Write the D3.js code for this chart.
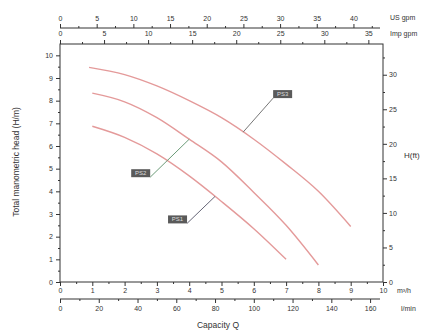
<!DOCTYPE html>
<html>
<head>
<meta charset="utf-8">
<script src="https://cdn.jsdelivr.net/npm/d3@7"></script>
<style>
    body { margin: 0; background: #fff; }
    svg { display: block; font-family: "Liberation Sans", Arial, sans-serif; }
    .axis text { fill: #333; font-size: 7px; }
    .axis path, .axis line { stroke: #333; }
</style>
</head>
<body>
<div id="chart"></div>
<script>
// Pump curves: capacity in m³/h, head in m
const qHigh = [0.9, 2, 3, 4, 5, 6, 7, 8, 9];
const hHigh = [9.47, 9.15, 8.65, 8.0, 7.25, 6.3, 5.2, 4.0, 2.45];
const qMid = [1.0, 2, 3, 4, 5, 6, 7, 8];
const hMid = [8.33, 7.95, 7.25, 6.3, 5.3, 3.95, 2.5, 0.75];
const qLow = [1.0, 2, 3, 4, 5, 6, 7];
const hLow = [6.87, 6.38, 5.65, 4.68, 3.55, 2.35, 1.0];

const curveNames = ['PS3', 'PS2', 'PS1'];
// where each label's leader touches its curve (m³/h)
const labelAt = [5.67, 4.0, 4.8];

// Tick values
const m3hTicks = [0, 1, 2, 3, 4, 5, 6, 7, 8, 9, 10];
const lminTicks = [0, 20, 40, 60, 80, 100, 120, 140, 160];
const usTicks = [0, 5, 10, 15, 20, 25, 30, 35, 40];
const impTicks = [0, 5, 10, 15, 20, 25, 30, 35];
const headTicks = [0, 1, 2, 3, 4, 5, 6, 7, 8, 9, 10];
const ftTicks = [0, 5, 10, 15, 20, 25, 30];

// Unit conversions
const M3H_TO_LMIN = 1000 / 60;
const M3H_TO_USGPM = 4.4029;
const M3H_TO_IMPGPM = 3.6662;
const M_TO_FT = 3.2808;

const width = 431, height = 332;
const plotLeft = 60, plotRight = 383, plotTop = 44, plotBottom = 282;
const qMax = 10, hMax = 10.5;

const svg = d3.select('#chart')
    .append('svg')
    .attr('width', width)
    .attr('height', height);

// Scales
const x = d3.scaleLinear().domain([0, qMax]).range([plotLeft, plotRight]);
const xLmin = d3.scaleLinear().domain([0, qMax * M3H_TO_LMIN]).range([plotLeft, plotRight]);
const xUs = d3.scaleLinear().domain([0, qMax * M3H_TO_USGPM]).range([plotLeft, plotRight]);
const xImp = d3.scaleLinear().domain([0, qMax * M3H_TO_IMPGPM]).range([plotLeft, plotRight]);
const y = d3.scaleLinear().domain([0, hMax]).range([plotBottom, plotTop]);
const yFt = d3.scaleLinear().domain([0, hMax * M_TO_FT]).range([plotBottom, plotTop]);

// Helper: minor ticks halfway between major ones
function halves(ticks, limit) {
    const step = ticks[1] - ticks[0];
    const out = [];
    for (let v = ticks[0] + step / 2; v < limit; v += step) out.push(v);
    return out;
}

function drawAxis(axis, translate, minorValues, minorAxisFn, scale) {
    const g = svg.append('g')
        .attr('class', 'axis')
        .attr('transform', translate)
        .call(axis);
    g.select('.domain').remove();
    svg.append('g')
        .attr('class', 'axis')
        .attr('transform', translate)
        .call(minorAxisFn(scale).tickValues(minorValues).tickSize(2).tickFormat(''))
        .select('.domain').remove();
    return g;
}

// Frame
svg.append('rect')
    .attr('x', plotLeft)
    .attr('y', plotTop)
    .attr('width', plotRight - plotLeft)
    .attr('height', plotBottom - plotTop)
    .style('fill', 'none')
    .style('stroke', '#333')
    .style('stroke-width', 1);

// Bottom: m³/h
drawAxis(d3.axisBottom(x).tickValues(m3hTicks).tickSize(4).tickPadding(2),
    `translate(0,${plotBottom})`, halves(m3hTicks, qMax), d3.axisBottom, x);

// Bottom: l/min
svg.append('line')
    .attr('x1', plotLeft).attr('x2', plotRight - 3)
    .attr('y1', 299).attr('y2', 299)
    .style('stroke', '#333');
drawAxis(d3.axisBottom(xLmin).tickValues(lminTicks).tickSize(4).tickPadding(3),
    'translate(0,299)', halves(lminTicks, qMax * M3H_TO_LMIN), d3.axisBottom, xLmin);

// Top: US gpm
svg.append('line')
    .attr('x1', plotLeft).attr('x2', plotRight - 3)
    .attr('y1', 28).attr('y2', 28)
    .style('stroke', '#333');
drawAxis(d3.axisTop(xUs).tickValues(usTicks).tickSize(4).tickPadding(3),
    'translate(0,28)', halves(usTicks, qMax * M3H_TO_USGPM), d3.axisTop, xUs);

// Top: Imp gpm
drawAxis(d3.axisTop(xImp).tickValues(impTicks).tickSize(4).tickPadding(4),
    `translate(0,${plotTop})`, halves(impTicks, qMax * M3H_TO_IMPGPM), d3.axisTop, xImp);

// Left: head in m
drawAxis(d3.axisLeft(y).tickValues(headTicks).tickSize(4).tickPadding(3),
    `translate(${plotLeft},0)`, halves(headTicks, hMax), d3.axisLeft, y);

// Right: head in ft
drawAxis(d3.axisRight(yFt).tickValues(ftTicks).tickSize(4).tickPadding(2),
    `translate(${plotRight},0)`, halves(ftTicks, hMax * M_TO_FT), d3.axisRight, yFt);

// Unit labels
const units = [
    { text: 'US gpm', x: 390, y: 20 },
    { text: 'Imp gpm', x: 390, y: 36 },
    { text: 'm³/h', x: 397, y: 293 },
    { text: 'l/min', x: 401, y: 311 }
];
svg.append('g')
    .selectAll('text')
    .data(units)
    .enter()
    .append('text')
    .attr('x', d => d.x)
    .attr('y', d => d.y)
    .text(d => d.text)
    .style('font-size', '7px')
    .style('fill', '#333');

// Axis titles
svg.append('text')
    .attr('transform', 'translate(19,162) rotate(-90)')
    .style('text-anchor', 'middle')
    .style('font-size', '8.5px')
    .style('fill', '#333')
    .text('Total manometric head (H/m)');

svg.append('text')
    .attr('x', 218)
    .attr('y', 328)
    .style('text-anchor', 'middle')
    .style('font-size', '8.5px')
    .style('fill', '#333')
    .text('Capacity Q');

svg.append('text')
    .attr('x', 404)
    .attr('y', 158)
    .style('font-size', '8px')
    .style('fill', '#333')
    .text('H(ft)');

// Curves
const series = [
    { q: qHigh, h: hHigh },
    { q: qMid, h: hMid },
    { q: qLow, h: hLow }
].map((s, i) => ({
    name: curveNames[i],
    at: labelAt[i],
    points: s.q.map((q, j) => ({ q, h: s.h[j] }))
}));

const line = d3.line()
    .x(d => x(d.q))
    .y(d => y(d.h))
    .curve(d3.curveMonotoneX);

svg.append('g')
    .selectAll('path')
    .data(series)
    .enter()
    .append('path')
    .attr('d', d => line(d.points))
    .style('fill', 'none')
    .style('stroke', '#e49a9a')
    .style('stroke-width', 1.4);

// Curve labels with leaders
const labelBoxes = [
    { dx: 30, dy: -34, color: '#777' },
    { dx: -39, dy: 38, color: '#6b9b78' },
    { dx: -28, dy: 27, color: '#667' }
];

function headAt(points, q) {
    for (let i = 1; i < points.length; i++) {
        if (q <= points[i].q) {
            const a = points[i - 1], b = points[i];
            return a.h + (b.h - a.h) * (q - a.q) / (b.q - a.q);
        }
    }
    return points[points.length - 1].h;
}

series.forEach((s, i) => {
    const px = x(s.at);
    const py = y(headAt(s.points, s.at));
    const box = labelBoxes[i];
    const bx = px + box.dx;
    const by = py + box.dy;

    svg.append('line')
        .attr('x1', px).attr('y1', py)
        .attr('x2', bx).attr('y2', by)
        .style('stroke', box.color)
        .style('stroke-width', 1);

    const g = svg.append('g')
        .attr('transform', `translate(${bx},${by})`);
    const w = 19, hgt = 8;
    const rx = i === 0 ? 0 : -w;
    g.append('rect')
        .attr('x', rx)
        .attr('y', -hgt)
        .attr('width', w)
        .attr('height', hgt)
        .style('fill', '#5a5a5a');
    g.append('text')
        .attr('x', rx + w / 2)
        .attr('y', -2)
        .style('text-anchor', 'middle')
        .style('font-size', '6px')
        .style('fill', '#ddd')
        .text(s.name);
});
</script>
</body>
</html>
